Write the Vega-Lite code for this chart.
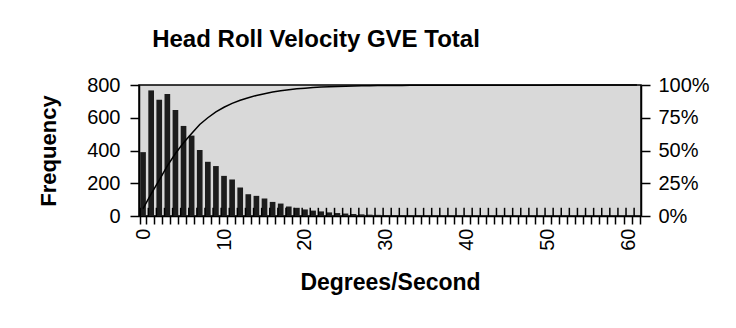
{
  "$schema": "https://vega.github.io/schema/vega-lite/v6.json",
  "width": 502,
  "height": 131,
  "autosize": {"type": "none"},
  "padding": {"left": 139, "top": 85, "right": 95, "bottom": 112},
  "background": "white",
  "title": {
    "text": "Head Roll Velocity GVE Total",
    "font": "Liberation Sans",
    "fontSize": 24,
    "fontWeight": "bold",
    "color": "black",
    "anchor": "middle",
    "frame": "group",
    "dx": -74,
    "offset": 23
  },
  "data": {
    "values": [
      {"deg": 0, "freq": 390, "cum": 5.7},
      {"deg": 1, "freq": 767, "cum": 16.9},
      {"deg": 2, "freq": 710, "cum": 27.3},
      {"deg": 3, "freq": 745, "cum": 38.2},
      {"deg": 4, "freq": 648, "cum": 47.7},
      {"deg": 5, "freq": 550, "cum": 55.9},
      {"deg": 6, "freq": 491, "cum": 63.0},
      {"deg": 7, "freq": 403, "cum": 69.9},
      {"deg": 8, "freq": 331, "cum": 75.0},
      {"deg": 9, "freq": 305, "cum": 79.5},
      {"deg": 10, "freq": 245, "cum": 83.0},
      {"deg": 11, "freq": 223, "cum": 86.0},
      {"deg": 12, "freq": 174, "cum": 88.4},
      {"deg": 13, "freq": 133, "cum": 90.3},
      {"deg": 14, "freq": 123, "cum": 92.0},
      {"deg": 15, "freq": 107, "cum": 93.4},
      {"deg": 16, "freq": 86, "cum": 94.6},
      {"deg": 17, "freq": 76, "cum": 95.6},
      {"deg": 18, "freq": 58, "cum": 96.4},
      {"deg": 19, "freq": 50, "cum": 97.1},
      {"deg": 20, "freq": 40, "cum": 97.6},
      {"deg": 21, "freq": 33, "cum": 98.0},
      {"deg": 22, "freq": 28, "cum": 98.4},
      {"deg": 23, "freq": 22, "cum": 98.7},
      {"deg": 24, "freq": 18, "cum": 98.9},
      {"deg": 25, "freq": 15, "cum": 99.1},
      {"deg": 26, "freq": 12, "cum": 99.3},
      {"deg": 27, "freq": 10, "cum": 99.4},
      {"deg": 28, "freq": 8, "cum": 99.5},
      {"deg": 29, "freq": 7, "cum": 99.6},
      {"deg": 30, "freq": 6, "cum": 99.6},
      {"deg": 31, "freq": 5, "cum": 99.7},
      {"deg": 32, "freq": 4, "cum": 99.7},
      {"deg": 33, "freq": 4, "cum": 99.8},
      {"deg": 34, "freq": 3, "cum": 99.8},
      {"deg": 35, "freq": 3, "cum": 99.8},
      {"deg": 36, "freq": 2, "cum": 99.9},
      {"deg": 37, "freq": 2, "cum": 99.9},
      {"deg": 38, "freq": 2, "cum": 99.9},
      {"deg": 39, "freq": 1, "cum": 99.9},
      {"deg": 40, "freq": 1, "cum": 99.9},
      {"deg": 41, "freq": 1, "cum": 99.9},
      {"deg": 42, "freq": 0, "cum": 99.9},
      {"deg": 43, "freq": 1, "cum": 99.9},
      {"deg": 44, "freq": 0, "cum": 99.9},
      {"deg": 45, "freq": 1, "cum": 99.9},
      {"deg": 46, "freq": 0, "cum": 99.9},
      {"deg": 47, "freq": 0, "cum": 99.9},
      {"deg": 48, "freq": 1, "cum": 99.9},
      {"deg": 49, "freq": 0, "cum": 99.9},
      {"deg": 50, "freq": 0, "cum": 99.9},
      {"deg": 51, "freq": 0, "cum": 100},
      {"deg": 52, "freq": 1, "cum": 100},
      {"deg": 53, "freq": 0, "cum": 100},
      {"deg": 54, "freq": 0, "cum": 100},
      {"deg": 55, "freq": 0, "cum": 100},
      {"deg": 56, "freq": 0, "cum": 100},
      {"deg": 57, "freq": 1, "cum": 100},
      {"deg": 58, "freq": 0, "cum": 100},
      {"deg": 59, "freq": 0, "cum": 100},
      {"deg": 60, "freq": 0, "cum": 100},
      {"deg": 61, "freq": 0, "cum": 100}
    ]
  },
  "layer": [
    {
      "mark": {"type": "bar", "color": "#1c1c1c"},
      "encoding": {
        "x": {
          "field": "deg",
          "type": "ordinal",
          "scale": {"paddingInner": 0.3, "paddingOuter": 0.15},
          "axis": {
            "title": "Degrees/Second",
            "titleFontSize": 23,
            "labelAngle": -90,
            "labelExpr": "datum.value % 10 === 0 ? datum.label : ''",
            "tickBand": "extent",
            "tickSize": 8,
            "labelPadding": 4,
            "titlePadding": 21
          }
        },
        "y": {
          "field": "freq",
          "type": "quantitative",
          "scale": {"domain": [0, 800], "nice": false},
          "axis": {
            "title": "Frequency",
            "values": [0, 200, 400, 600, 800],
            "orient": "left",
            "tickSize": 9,
            "labelPadding": 10,
            "titlePadding": 26
          }
        }
      }
    },
    {
      "mark": {"type": "rule", "color": "black", "strokeWidth": 1.5},
      "encoding": {
        "x": {"field": "deg", "type": "ordinal", "bandPosition": 0},
        "y": {"datum": 0, "type": "quantitative", "scale": {"domain": [0, 800], "nice": false}, "axis": null},
        "y2": {"datum": 50}
      }
    },
    {
      "mark": {"type": "line", "color": "black", "strokeWidth": 1.5},
      "encoding": {
        "x": {"field": "deg", "type": "ordinal"},
        "y": {
          "field": "cum",
          "type": "quantitative",
          "scale": {"domain": [0, 100], "nice": false},
          "axis": {
            "title": null,
            "orient": "right",
            "values": [0, 25, 50, 75, 100],
            "labelExpr": "datum.value + '%'",
            "tickSize": 9,
            "labelPadding": 8
          }
        }
      }
    }
  ],
  "resolve": {"scale": {"y": "independent"}},
  "config": {
    "font": "Liberation Sans",
    "view": {"stroke": "black", "strokeWidth": 1.5, "fill": "#d9d9d9"},
    "axis": {
      "grid": false,
      "domainColor": "black",
      "domainWidth": 1.5,
      "tickColor": "black",
      "tickWidth": 1.5,
      "labelColor": "black",
      "labelFont": "Liberation Sans",
      "labelFontSize": 20,
      "titleColor": "black",
      "titleFont": "Liberation Sans",
      "titleFontSize": 22,
      "titleFontWeight": "bold"
    }
  }
}
